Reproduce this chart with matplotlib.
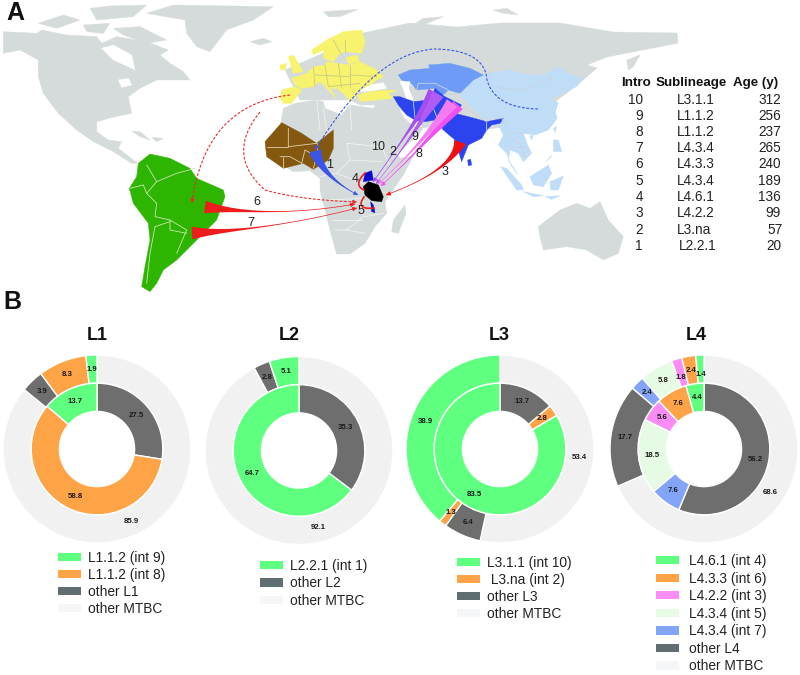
import numpy as np
import matplotlib
matplotlib.use("Agg")
import matplotlib.pyplot as plt
from matplotlib.patches import Polygon, Patch

plt.rcParams['font.family'] = ['Liberation Sans', 'DejaVu Sans']

GREEN, ORANGE, DARK, LIGHT = '#5FFF7F', '#FFA347', '#6E6E6E', '#F1F1F1'
PINK, PALE, BLUE = '#FA8CF5', '#E6FBE3', '#82A5FA'
LEG_DARK, LEG_LIGHT = '#5F6E70', '#F5F6F8'
MAP_GREY = '#D5DBDA'

# ---- donut data ----
titles = ['L1', 'L2', 'L3', 'L4']
inner_values = [[27.5, 58.8, 13.7], [35.3, 64.7], [13.7, 2.8, 83.5], [56.2, 7.6, 18.5, 5.6, 7.6, 4.4]]
inner_colors = [[DARK, ORANGE, GREEN], [DARK, GREEN], [DARK, ORANGE, GREEN], [DARK, BLUE, PALE, PINK, ORANGE, GREEN]]
outer_values = [[85.9, 3.9, 8.3, 1.9], [92.1, 2.8, 5.1], [53.4, 6.4, 1.3, 38.9], [68.6, 17.7, 2.4, 5.8, 1.8, 2.4, 1.4]]
outer_colors = [[LIGHT, DARK, ORANGE, GREEN], [LIGHT, DARK, GREEN], [LIGHT, DARK, ORANGE, GREEN],
                [LIGHT, DARK, BLUE, PALE, PINK, ORANGE, GREEN]]
legend_labels = [['L1.1.2 (int 9)', 'L1.1.2 (int 8)', 'other L1', 'other MTBC'],
                 ['L2.2.1 (int 1)', 'other L2', 'other MTBC'],
                 ['L3.1.1 (int 10)', ' L3.na (int 2)', 'other L3', 'other MTBC'],
                 ['L4.6.1 (int 4)', 'L4.3.3 (int 6)', 'L4.2.2 (int 3)', 'L4.3.4 (int 5)', 'L4.3.4 (int 7)', 'other L4', 'other MTBC']]
legend_colors = [[GREEN, ORANGE, LEG_DARK, LEG_LIGHT], [GREEN, LEG_DARK, LEG_LIGHT],
                 [GREEN, ORANGE, LEG_DARK, LEG_LIGHT], [GREEN, ORANGE, PINK, PALE, BLUE, LEG_DARK, LEG_LIGHT]]

# ---- table data ----
table_header = ['Intro', 'Sublineage', 'Age (y)']
intro = ['10', '9', '8', '7', '6', '5', '4', '3', '2', '1']
sublineage = ['L3.1.1', 'L1.1.2', 'L1.1.2', 'L4.3.4', 'L4.3.3', 'L4.3.4', 'L4.6.1', 'L4.2.2', 'L3.na', 'L2.2.1']
age = [312, 256, 237, 265, 240, 189, 136, 99, 57, 20]


def z(x0, y0, pts):
    """Outline traced on a 3x view whose corner is (x0, y0)."""
    return [(x0 + x / 3, y0 + y / 3) for x, y in pts]


# ---- map outlines ----
north_america = z(0, 0, [(10,95),(110,100),(125,90),(200,105),(290,110),(305,130),(350,110),(440,125),(505,150),(480,165),(510,190),(550,215),(570,240),
                 (520,240),(470,240),(420,265),(385,290),(395,340),(345,350),(290,365),(290,395),(325,420),(365,425),(355,445),(400,480),
                 (415,490),(395,490),(340,455),(280,425),(230,390),(175,340),(130,280),(115,230),(115,180),(60,150),(10,160)])
hudson = z(0, 0, [(305,145),(340,135),(395,165),(405,210),(385,200),(340,180)])
great_lakes = z(0, 0, [(355,240),(385,235),(395,255),(365,262)])
greenland = z(0, 0, [(440,40),(520,15),(820,20),(760,60),(680,90),(630,155),(590,140),(560,100),(555,60)])
arctic_a = z(0, 0, [(115,70),(190,45),(240,60),(170,85)])
arctic_b = z(0, 0, [(270,25),(330,18),(440,15),(400,50),(290,60)])
arctic_c = z(0, 0, [(340,85),(420,80),(500,120),(440,130),(370,105)])
arctic_d = z(0, 0, [(250,75),(330,70),(310,100),(260,95)])
cuba = z(0, 0, [(395,393),(420,395),(450,420),(420,410)])
hispaniola = z(0, 0, [(455,412),(490,415),(470,425)])
iceland = z(0, 0, [(750,125),(790,115),(815,125),(780,135)])
svalbard = z(0, 0, [(970,35),(1075,28),(1020,50),(985,50)])
south_america = z(0, 0, [(415,490),(450,462),(510,475),(570,505),(590,535),(670,570),(675,590),(650,660),(600,710),(560,750),(530,780),
                 (490,810),(470,850),(450,875),(425,860),(435,800),(450,720),(445,670),(400,610),(388,565),(410,530)])
africa = z(270, 20, [(40,265),(75,250),(140,240),(160,245),(165,265),(215,285),(240,255),(310,265),(320,255)]) + \
         z(300, 130, [(245,0),(285,58),(300,85),(340,78),(310,135),(255,215),(260,250),(225,290),(195,340),(150,372),(110,372),(95,320),
                      (60,180),(60,145),(30,122),(-20,125),(-60,100),(-70,50)])
west_africa = z(0, 0, [(845,368),(905,400),(950,430),(1000,390),(1000,445),(985,480),(940,508),(910,490),(850,505),(800,470),(795,425)])
madagascar = z(300, 130, [(280,270),(315,225),(318,250),(295,310),(275,305)])
tanzania = z(300, 130, [(190,170),(205,155),(235,165),(250,200),(245,215),(215,212),(195,195)])
uganda = z(300, 130, [(195,130),(215,122),(220,150),(190,155)])
malawi = z(300, 130, [(212,215),(220,225),(225,248),(215,245)])
europe = z(270, 20, [(65,175),(110,160),(130,140),(165,135),(170,125),(200,130),(240,135),(270,125),(320,150),(340,170),(320,180),(300,195),
                     (270,210),(240,245),(225,225),(200,205),(180,205),(200,235),(170,205),(150,185),(130,200),(95,205),(75,195)])
iberia = z(270, 20, [(35,210),(75,200),(95,210),(65,250),(40,250),(30,235)])
scandinavia = z(270, 20, [(125,90),(170,60),(220,35),(275,30),(285,65),(275,100),(225,95),(205,105),(190,125),(160,115),(160,90),(130,105)])
baltic = z(270, 20, [(228,112),(262,105),(268,125),(235,132)])
britain = z(270, 20, [(55,110),(70,105),(100,155),(70,160)])
ireland = z(270, 20, [(30,135),(50,130),(45,150),(32,150)])
turkey = z(270, 20, [(262,225),(300,215),(350,210),(380,212),(355,220),(370,235),(320,240),(270,245)])
black_sea = z(270, 20, [(280,198),(340,188),(350,205),(300,213),(270,215)])
eurasia = [(363,33),(410,23),(457,27),(500,23),(560,23),(613,32),(677,33),(678,43),(643,50),(607,57),(587,65),(597,68),(583,80),
           (567,93),(557,100),(555,117),(540,127),(520,125),(480,130),(445,125),(423,128),(420,133),(398,153),(392,146),(373,120),
           (375,105),(360,105),(350,100),(300,100),(285,70),(330,50)]
novaya = z(400, 0, [(30,80),(70,55),(130,50),(70,75),(40,90)])
severnaya = z(400, 0, [(280,30),(320,25),(355,45),(310,40)])
kamchatka = z(400, 0, [(680,180),(720,165),(700,200),(685,210)])
east_asia = [(460,95),(465,88),(473,80)] + z(480, 50, [(0,75),(25,70),(85,60),(150,75),(190,75),(235,50),(275,75),(310,85),(290,110),(235,135),(210,145),
             (235,160),(225,185),(232,205),(205,240),(165,255),(130,250),(145,290),(155,310),(130,335),(115,310),(90,300),(85,330),(115,375),
             (95,350),(80,310),(55,285),(70,255),(50,215),(65,205),(10,205)])
sumatra = z(480, 50, [(62,350),(80,355),(125,405),(130,420),(110,420)])
java = z(480, 50, [(130,425),(190,437),(160,440)])
sunda = z(480, 50, [(195,440),(240,437),(215,448)])
borneo = z(480, 50, [(150,380),(205,345),(215,370),(190,410),(160,405)])
sulawesi = z(480, 50, [(210,395),(250,378),(235,420),(212,420)])
philippines = z(480, 50, [(220,270),(235,270),(245,305),(220,305)])
palawan = z(480, 50, [(198,335),(215,315),(212,322)])
taiwan = z(480, 50, [(220,235),(230,230),(225,248)])
hainan = z(480, 50, [(148,258),(160,255),(155,270)])
central_asia = z(380, 50, [(55,75),(90,60),(150,55),(145,45),(210,40),(270,55),(310,75),(280,90),(255,115),(240,130),(205,120),(190,135),(165,115),(110,120),(95,100),(65,90)])
caspian = z(380, 50, [(60,95),(90,95),(85,115),(100,150),(80,145),(70,115)])
persian_gulf = z(380, 50, [(60,180),(80,195),(105,210),(125,230),(100,225),(75,205)])
south_asia = z(380, 50, [(40,140),(60,140),(100,155),(150,150),(165,115),(195,140),(245,165),(225,190),(265,200),(320,215),(370,205),(360,220),
                         (335,225),(320,240),(305,265),(265,285),(245,335),(225,270),(190,240),(165,210),(135,215),(105,210),(80,195),(55,165)])
sri_lanka = z(380, 50, [(263,330),(272,328),(275,345),(265,347)])
australia = z(400, 0, [(415,680),(480,630),(530,610),(570,625),(600,605),(625,660),(670,710),(655,760),(610,780),(560,750),(500,740),(430,750),(420,710)])

# ---- borders ----
sa_borders = [z(0, 0, p) for p in [[(440,495),(470,545),(440,580)], [(470,545),(530,520),(585,505)],
              [(440,580),(470,610),(465,650),(510,660),(560,690),(545,725),(530,760)], [(465,680),(450,760),(440,850)],
              [(465,680),(510,665)], [(390,565),(430,555),(440,580)], [(510,660),(510,690),(560,700)]]]
wa_borders = [z(0, 0, p) for p in [[(865,385),(865,440),(950,430)], [(800,440),(865,440)], [(840,470),(870,470),(905,490)],
              [(905,490),(915,450),(950,470),(940,505)], [(950,430),(950,470)], [(850,505),(850,470)]]]
af_borders = [z(300, 130, p) for p in [[(140,40),(150,90),(110,130),(60,140)], [(140,40),(240,50)], [(150,90),(245,95)], [(110,130),(190,160)],
              [(85,210),(190,205),(190,260),(140,300),(105,300)], [(195,260),(250,250)], [(100,270),(190,270)], [(140,300),(195,310)], [(245,50),(270,110),(240,150)]]] + \
             [z(270, 20, p) for p in [[(140,240),(150,330)], [(240,255),(245,330)], [(160,265),(170,330)]]]
eu_borders = [z(270, 20, p) for p in [[(130,140),(135,200)], [(165,135),(175,200)], [(135,165),(240,170)], [(205,130),(215,205)], [(240,135),(240,200)],
              [(175,200),(270,190)], [(240,165),(320,170)], [(190,60),(215,105)], [(225,60),(225,95)]]]
as_borders = [z(380, 50, p) for p in [[(110,120),(115,100),(165,100),(205,120)], [(150,150),(170,200)], [(190,135),(240,130)], [(245,165),(320,215),(320,240)],
              [(100,155),(105,205)]]] + \
             [z(480, 50, p) for p in [[(25,70),(40,110),(125,122),(215,85)], [(65,205),(90,250),(130,250)], [(85,260),(120,280),(135,320)], [(90,290),(145,290)]]]

fig = plt.figure(figsize=(8, 6.75), dpi=100, facecolor='white')
m = fig.add_axes([0, 0, 1, 1])
m.set_xlim(0, 800)
m.set_ylim(675, 0)
m.axis('off')


def poly(pts, color, zo=1):
    m.add_patch(Polygon(pts, closed=True, fc=color, ec=color, lw=0.3, zorder=zo, joinstyle='round'))


def lines(groups, color, zo, lw=0.6):
    for p in groups:
        a = np.array(p)
        m.plot(a[:, 0], a[:, 1], color=color, lw=lw, zorder=zo, solid_capstyle='round')


for p in [north_america, greenland, arctic_a, arctic_b, arctic_c, arctic_d, cuba, hispaniola, iceland, svalbard, africa,
          madagascar, eurasia, novaya, severnaya, kamchatka, australia]:
    poly(p, MAP_GREY, 1)
for p in [hudson, great_lakes, black_sea, caspian, persian_gulf]:
    poly(p, 'white', 2)
lines(af_borders, '#F0F3F2', 2)
poly(south_america, '#2DB500', 3)
poly(west_africa, '#84590F', 3)
for p in [europe, iberia, scandinavia, baltic, britain, ireland, turkey]:
    poly(p, '#F7F36E', 3)
for p in [east_asia, sumatra, java, sunda, borneo, sulawesi, philippines, palawan, taiwan, hainan]:
    poly(p, '#BFDDF7', 3)
poly(central_asia, '#6E9BF5', 3)
poly(caspian, 'white', 3)
poly(south_asia, '#2B44F0', 3)
poly(sri_lanka, '#2B44F0', 3)
lines(sa_borders, '#C8E8B8', 4)
lines(wa_borders, '#E0D0B0', 4)
lines(eu_borders, '#C8C88A', 4)
lines(as_borders, '#C8D4E4', 4)
poly(tanzania, 'black', 5)
poly(uganda, '#0A0ACF', 5)
poly(malawi, '#0A0ACF', 5)


def bez(p0, p1, p2, n=60):
    t = np.linspace(0, 1, n)[:, None]
    p0, p1, p2 = map(np.array, (p0, p1, p2))
    return (1 - t) ** 2 * p0 + 2 * t * (1 - t) * p1 + t ** 2 * p2


def taper(p0, p1, p2, w0, color, power, zo=6):
    c = bez(p0, p1, p2)
    d = np.gradient(c, axis=0)
    nrm = np.c_[-d[:, 1], d[:, 0]] / np.linalg.norm(d, axis=1)[:, None]
    t = np.linspace(0, 1, len(c))
    w = (w0 * (1 - t) ** power + 0.35)[:, None]
    m.add_patch(Polygon(np.r_[c + nrm * w, (c - nrm * w)[::-1]], closed=True, fc=color, ec='none', zorder=zo))


def head(a, b, color, size=6):
    m.annotate('', xy=b, xytext=a, arrowprops=dict(arrowstyle='-|>', color=color, lw=0.6, mutation_scale=size,
                                                   shrinkA=0, shrinkB=0), zorder=7)


flows = [((205, 207), (280, 217.5), (355, 204), 6, '#EE1C1C', 6),
         ((192, 233), (274, 229.5), (357, 208), 6, '#EE1C1C', 6),
         ((460, 142), (451, 171), (386, 195), 6, '#F01010', 3.5),
         ((315, 151), (323, 177), (358, 195), 6, '#3B55E8', 2),
         ((434, 92), (410, 130), (373, 182), 6, '#A64DF0', 3),
         ((438, 94), (414, 135), (376, 184), 6, '#B05CF2', 3),
         ((458, 105), (420, 150), (381, 186), 6, '#F050F0', 3),
         ((452, 103), (416, 150), (378, 184), 6, '#F57CF0', 3)]
for p0, p1, p2, w, col, pw in flows:
    taper(p0, p1, p2, w, col, pw)
    head(tuple(bez(p0, p1, p2)[-3]), p2, col)

# dashed routes
dash_a = bez((290, 95), (205, 105), (192, 203))
dash_b = np.r_[bez((260, 112), (225, 155), (265, 190)), bez((265, 190), (300, 200), (357, 202))]
dash_c = np.r_[bez((538, 109), (495, 108), (487, 80)), bez((487, 80), (485, 50), (435, 49)), bez((435, 49), (375, 52), (315, 150))]
for c, col in [(dash_a, '#EE2A2A'), (dash_b, '#EE2A2A'), (dash_c, '#3B55E8')]:
    m.plot(c[:, 0], c[:, 1], color=col, lw=0.8, ls=(0, (2.5, 1.5)), zorder=6)
    head(tuple(c[-3]), tuple(c[-1]), col)
# local loops
loop4 = bez((365, 173), (353, 185), (364, 190))
loop5 = bez((364, 197), (355, 210), (374, 208))
for lp in (loop4, loop5):
    m.plot(lp[:, 0], lp[:, 1], color='#EE1C1C', lw=1.2, zorder=6)

route_labels = ['1', '2', '3', '4', '5', '6', '7', '8', '9', '10']
route_xy = [(330, 165), (393, 152), (445, 172), (355, 179), (361, 211), (257, 202), (251, 223), (419, 154), (415, 137), (378, 147)]
for s, (x, y) in zip(route_labels, route_xy):
    m.text(x, y, s, fontsize=9, color='#222222', ha='center', va='center', zorder=8)

# table
for s, x in zip(table_header, [621, 656, 733]):
    m.text(x, 83, s, fontsize=9.6, fontweight='bold', ha='left', va='center', color='#111111')
sub_x = [676.5] * 9 + [678.5]
age_x = [781] * 8 + [783, 781]
for i, (a, b, c_) in enumerate(zip(intro, sublineage, age)):
    y = 99.5 + i * 16.25
    m.text(643, y, a, fontsize=9.8, ha='right', va='center', color='#222222')
    m.text(sub_x[i], y, b, fontsize=9.8, ha='left', va='center', color='#222222')
    m.text(age_x[i], y, str(c_), fontsize=9.8, ha='right', va='center', color='#222222')

m.text(6, 13, 'A', fontsize=18, fontweight='bold', ha='left', va='center', color='#111111')
m.text(3, 302, 'B', fontsize=18, fontweight='bold', ha='left', va='center', color='#111111')

# donuts
centers = [(97, 449), (299, 450.5), (500, 449), (704, 449)]
R = 94
title_xy = [(97, 336), (289, 336), (499, 336), (696, 336)]
leg_xy = [(58, 551), (260, 559), (457, 556), (656, 554)]
leg_pad = [0.45, 0.45, 0.45, 0.7]
leg_space = [0.22, 0.24, 0.22, 0.26]

for i in range(4):
    cx, cy = centers[i]
    ax = fig.add_axes([(cx - R) / 800, 1 - (cy + R) / 675, 2 * R / 800, 2 * R / 675])
    ax.patch.set_alpha(0)
    _, t_out = ax.pie(outer_values[i], colors=outer_colors[i], radius=1.0, startangle=90, counterclock=False,
                      labels=[f'{v:.1f}' for v in outer_values[i]], labeldistance=0.85,
                      wedgeprops=dict(width=0.3, edgecolor='white', linewidth=1.0))
    _, t_in = ax.pie(inner_values[i], colors=inner_colors[i], radius=0.7, startangle=90, counterclock=False,
                     labels=[f'{v:.1f}' for v in inner_values[i]], labeldistance=0.79,
                     wedgeprops=dict(width=0.3, edgecolor='white', linewidth=1.0))
    for t in list(t_out) + list(t_in):
        t.set_ha('center')
        t.set_fontsize(5.6)
        t.set_fontweight('bold')
        t.set_color('#1a1a1a')
    if i == 3:  # the three thin top slices have their labels staggered
        for k, dy in [(4, -0.05), (6, -0.06)]:
            xt, yt = t_out[k].get_position()
            t_out[k].set_position((xt, yt + dy))
    ax.set_xlim(-1, 1)
    ax.set_ylim(-1, 1)
    m.text(title_xy[i][0], title_xy[i][1], titles[i], fontsize=13, fontweight='bold', ha='center', va='center', color='#111111')
    handles = [Patch(fc=c, ec='none') for c in legend_colors[i]]
    fig.legend(handles, legend_labels[i], loc='upper left',
               bbox_to_anchor=(leg_xy[i][0] / 800, 1 - leg_xy[i][1] / 675), frameon=False,
               fontsize=9.9, handlelength=1.7, handleheight=0.55, handletextpad=leg_pad[i],
               labelspacing=leg_space[i], borderpad=0, borderaxespad=0, labelcolor='#222222')

fig.savefig('out.png', dpi=100)
